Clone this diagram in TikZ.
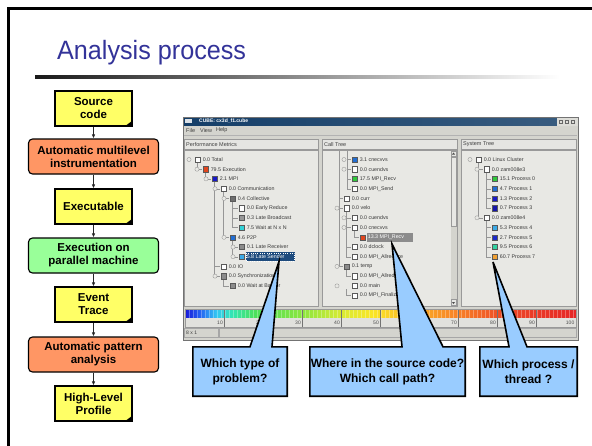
\documentclass[tikz,border=0pt]{standalone}
\usepackage{fontspec}
\setmainfont{Liberation Sans}
\usetikzlibrary{arrows.meta,calc}

\pgfdeclarelayer{front}
\pgfsetlayers{main,front}

\definecolor{titleblue}{RGB}{51,51,153}
\definecolor{docyellow}{RGB}{255,255,102}
\definecolor{procsalmon}{RGB}{255,150,100}
\definecolor{rungreen}{RGB}{153,255,153}
\definecolor{calloutblue}{RGB}{153,204,255}
\definecolor{winbg}{RGB}{212,212,206}
\definecolor{panelbg}{RGB}{232,232,228}
\definecolor{treetext}{RGB}{55,55,55}
\definecolor{treeline}{RGB}{150,150,150}
\definecolor{titlebar}{RGB}{20,62,104}
\definecolor{selblue}{RGB}{30,75,125}
\definecolor{selgrey}{RGB}{140,140,140}
\definecolor{sqred}{RGB}{224,70,30}
\definecolor{sqblue}{RGB}{25,25,200}
\definecolor{sqmid}{RGB}{35,110,210}
\definecolor{sqcyan}{RGB}{50,210,215}
\definecolor{sqsky}{RGB}{60,170,230}
\definecolor{sqgrey}{RGB}{110,110,110}
\definecolor{sqgreen}{RGB}{50,200,60}
\definecolor{sqteal}{RGB}{50,210,160}
\definecolor{sqorange}{RGB}{240,160,50}

% value scale of the metric browser
\pgfdeclarehorizontalshading{valuescale}{100bp}{
  rgb(0bp)=(0.10,0.10,0.85);
  rgb(25bp)=(0.10,0.10,0.85);
  rgb(27bp)=(0.15,0.40,0.95);
  rgb(29bp)=(0.20,0.78,0.95);
  rgb(31bp)=(0.20,0.90,0.70);
  rgb(34bp)=(0.30,0.88,0.35);
  rgb(40bp)=(0.55,0.90,0.25);
  rgb(45bp)=(0.85,0.92,0.20);
  rgb(49bp)=(0.98,0.90,0.15);
  rgb(54bp)=(0.98,0.70,0.15);
  rgb(60bp)=(0.97,0.50,0.15);
  rgb(66bp)=(0.93,0.28,0.15);
  rgb(75bp)=(0.90,0.15,0.15);
  rgb(100bp)=(0.90,0.15,0.15)}

\tikzset{
  flowtext/.style={font=\fontsize{11.5}{13}\selectfont\bfseries, align=center, inner sep=0pt, text=black},
  docbox/.style={flowtext, draw=black, line width=1.1pt, fill=docyellow, minimum width=77pt, minimum height=35pt},
  procbox/.style={flowtext, draw=black, line width=1.1pt, rounded corners=4pt, fill=procsalmon, minimum width=130pt, minimum height=35pt},
  runbox/.style={procbox, fill=rungreen},
  flowarrow/.style={-{Latex[length=4pt,width=3.4pt]}, line width=0.7pt, black!85},
  calloutlabel/.style={font=\fontsize{12}{15}\selectfont\bfseries, align=center, inner sep=0pt, minimum height=49pt},
  calloutshape/.style={fill=calloutblue, draw=black, line width=1.6pt, line join=miter},
  treelabel/.style={anchor=west, inner sep=0pt, font=\fontsize{5.3}{6}\selectfont, text=treetext},
  treeedge/.style={draw=treeline, line width=0.35pt},
  uilabel/.style={anchor=west, inner sep=0pt, font=\fontsize{5.5}{6}\selectfont, text=black!75},
  panel/.style={fill=panelbg, draw=black!40, line width=0.5pt},
  panelhead/.style={fill=winbg!60!white, draw=black!40, line width=0.5pt},
}

% square + label of one tree entry: [label opts]{name}{x}{y}{colour}{text}
\newcommand{\treeitem}[6][]{%
  \filldraw[fill=#5, draw=black!65, line width=0.3pt] (#3,#4-2.6) rectangle ++(5.2,5.2);
  \node[treelabel,#1] (#2) at (#3+7.6,#4) {#6};}
\newcommand{\expander}[2]{\filldraw[treeedge, fill=panelbg] (#1,#2) circle (2.1pt);}
\newcommand{\tedge}[4]{\draw[treeedge] (#1,#2) |- (#3,#4);}
\newcommand{\pagefold}[1]{\fill[black] ($(#1.south east)+(-8,0)$) -- ($(#1.south east)+(0,-6)$) -- (#1.south east) -- cycle;}

\begin{document}
\begin{tikzpicture}[x=1pt,y=-1pt]
\useasboundingbox (0,0) rectangle (592,445);
\fill[white] (0,0) rectangle (592,445);

% slide frame
\draw[black, line width=3pt] (8,446) -- (8,8) -- (593,8);

% heading
\node[anchor=base west, inner sep=0pt, text=titleblue, font=\fontsize{26.5}{30}\selectfont, xscale=0.95, transform shape] (title) at (57,59) {Analysis process};
\shade[left color=black!90, right color=white] (35,75.6) rectangle (560,78.6);

% ---------- process chain ----------
\node[docbox]  (src)   at (93.5,108.5) {Source\\code};
\node[procbox] (instr) at (93.5,156.5) {Automatic multilevel\\instrumentation};
\node[docbox]  (exe)   at (93.5,206.5) {Executable};
\node[runbox]  (run)   at (93.5,255.5) {Execution on\\parallel machine};
\node[docbox]  (trace) at (93.5,304.5) {Event\\Trace};
\node[procbox] (pat)   at (93.5,354.5) {Automatic pattern\\analysis};
\node[docbox]  (prof)  at (93.5,403.5) {High-Level\\Profile};
\pagefold{src}\pagefold{exe}\pagefold{trace}\pagefold{prof}
\draw[flowarrow] (src) -- (instr);
\draw[flowarrow] (instr) -- (exe);
\draw[flowarrow] (exe) -- (run);
\draw[flowarrow] (run) -- (trace);
\draw[flowarrow] (trace) -- (pat);
\draw[flowarrow] (pat) -- (prof);

% ---------- browser window ----------
\fill[winbg] (183,117) rectangle (578,340);
\shade[left color=titlebar, right color=titlebar!85!white] (183,117) rectangle (557,125.5);
\fill[winbg!80!white] (557,117) rectangle (578,125.5);
\foreach \bx in {561,567,573}{\draw[black!60, line width=0.4pt] (\bx-1.6,119.7) rectangle (\bx+1.6,122.9);}
\fill[white!85!titlebar] (185,119.3) rectangle (192,123.3);
\node[anchor=west, inner sep=0pt, text=white, font=\fontsize{5}{6}\selectfont\bfseries] (wtitle) at (199,121.3) {CUBE: cx3d\_f1.cube};
\draw[black!55, line width=0.6pt] (183,117) rectangle (578,340);

% menu
\node[uilabel] (mfile) at (186,130.5) {File};
\node[uilabel] (mview) at (200,130.5) {View};
\node[uilabel] (mhelp) at (216,130.5) {Help};
\draw[black!30, line width=0.4pt] (184,135.5) -- (577,135.5);

% panel headers
\draw[panelhead] (184.5,139.5) rectangle (318,149);
\draw[panelhead] (322,139.5) rectangle (457,149);
\draw[panelhead] (461,139.5) rectangle (576,149);
\node[uilabel] (hmet) at (186,144.3) {Performance Metrics};
\node[uilabel] (hcall) at (324,144.3) {Call Tree};
\node[uilabel] (hsys) at (463,144.3) {System Tree};

% panel bodies
\draw[panel] (184.5,150.5) rectangle (318,306);
\draw[panel] (322,150.5) rectangle (457,306);
\draw[panel] (461,150.5) rectangle (576,306);

% scroll bar of the call tree
\fill[winbg] (450.5,151) rectangle (456.5,305.5);
\draw[fill=winbg!55!white, draw=black!40, line width=0.4pt] (450.8,157) rectangle (456.2,226);
\draw[fill=winbg!55!white, draw=black!40, line width=0.4pt] (450.8,151) rectangle (456.2,156.5);
\draw[fill=winbg!55!white, draw=black!40, line width=0.4pt] (450.8,299.5) rectangle (456.2,305.5);
\fill[black!70] (452,302) -- (455,302) -- (453.5,304) -- cycle;
\fill[black!70] (452,154.5) -- (455,154.5) -- (453.5,152.5) -- cycle;

% metric tree
\tedge{197.6}{162.5}{202}{169.2}
\tedge{205.6}{172}{211}{178.9}
\tedge{214.6}{181.5}{220}{276.1}
\draw[treeedge] (214.6,188.7) -- (220,188.7) (214.6,266.4) -- (220,266.4);
\tedge{223.6}{191.3}{229}{237.3}
\draw[treeedge] (223.6,198.4) -- (229,198.4);
\tedge{232.6}{201}{238}{227.5}
\draw[treeedge] (232.6,208.1) -- (238,208.1) (232.6,217.8) -- (238,217.8);
\tedge{232.6}{240}{238}{256.7}
\draw[treeedge] (232.6,247) -- (238,247);
\tedge{223.6}{279}{229}{285.9}
\expander{189}{159.5}\expander{197}{169.2}\expander{206}{178.9}\expander{215}{188.7}
\expander{224}{198.4}\expander{224}{237.3}\expander{233}{247}\expander{233}{256.7}\expander{215}{276.1}
\fill[selblue] (245.8,252.2) rectangle (295,261.3);
\draw[white, dotted, line width=0.3pt] (246.3,252.7) rectangle (294.5,260.8);
\treeitem{m1}{195}{159.5}{white}{0.0 Total}
\treeitem{m2}{203}{169.2}{sqred}{79.5 Execution}
\treeitem{m3}{212}{178.9}{sqblue}{2.1 MPI}
\treeitem{m4}{221}{188.7}{white}{0.0 Communication}
\treeitem{m5}{230}{198.4}{sqgrey}{0.4 Collective}
\treeitem{m6}{239}{208.1}{white}{0.0 Early Reduce}
\treeitem{m7}{239}{217.8}{sqgrey!70}{0.3 Late Broadcast}
\treeitem{m8}{239}{227.5}{sqcyan}{7.5 Wait at N x N}
\treeitem{m9}{230}{237.3}{sqmid}{4.6 P2P}
\treeitem{m10}{239}{247.0}{sqgrey!80}{0.1 Late Receiver}
\treeitem[text=white]{m11}{239}{256.7}{sqsky}{5.8 Late Sender}
\treeitem{m12}{221}{266.4}{white}{0.0 IO}
\treeitem{m13}{221}{276.1}{sqgrey!80}{0.0 Synchronization}
\treeitem{m14}{230}{285.9}{sqgrey!80}{0.0 Wait at Barrier}

% call tree
\draw[treeedge] (339,151) -- (339,266.4);
\draw[treeedge] (339,198.4) -- (343,198.4) (339,208.1) -- (343,208.1) (339,266.4) -- (343,266.4);
\tedge{347}{151}{351}{188.7}
\draw[treeedge] (347,159.5) -- (351,159.5) (347,169.2) -- (351,169.2) (347,178.9) -- (351,178.9);
\tedge{346.6}{211}{351}{256.7}
\draw[treeedge] (346.6,217.8) -- (351,217.8) (346.6,227.5) -- (351,227.5) (346.6,247) -- (351,247);
\tedge{354.6}{230.5}{359}{237.3}
\tedge{346.6}{269.4}{351}{276.1}
\tedge{346.6}{289}{351}{295.6}
\expander{344}{159.5}\expander{344}{169.2}\expander{337}{208.1}\expander{344}{217.8}
\expander{344}{227.5}\expander{337}{266.4}\expander{337}{285.9}
\fill[selgrey] (366.5,232.9) rectangle (413,241.8);
\treeitem{c1}{352}{159.5}{sqmid}{3.1 cnecvvs}
\treeitem{c2}{352}{169.2}{white}{0.0 cuendvs}
\treeitem{c3}{352}{178.9}{sqgreen}{17.5 MPI\_Recv}
\treeitem{c4}{352}{188.7}{white}{0.0 MPI\_Send}
\treeitem{c5}{344}{198.4}{white}{0.0 curr}
\treeitem{c6}{344}{208.1}{white}{0.0 velo}
\treeitem{c7}{352}{217.8}{white}{0.0 cuendvs}
\treeitem{c8}{352}{227.5}{white}{0.0 cnecvvs}
\treeitem[text=white]{c9}{360}{237.3}{sqred}{13.3 MPI\_Recv}
\treeitem{c10}{352}{247.0}{white}{0.0 dclock}
\treeitem{c11}{352}{256.7}{white}{0.0 MPI\_Allreduce}
\treeitem{c12}{344}{266.4}{sqgrey!80}{0.1 temp}
\treeitem{c13}{352}{276.1}{white}{0.0 MPI\_Allreduce}
\treeitem{c14}{352}{285.9}{white}{0.0 main}
\treeitem{c15}{352}{295.6}{white}{0.0 MPI\_Finalize}

% system tree
\tedge{478.6}{162.5}{483}{217.8}
\draw[treeedge] (478.6,169.2) -- (483,169.2);
\tedge{486.6}{172}{491}{208.1}
\draw[treeedge] (486.6,178.9) -- (491,178.9) (486.6,188.7) -- (491,188.7) (486.6,198.4) -- (491,198.4);
\tedge{486.6}{221}{491}{256.7}
\draw[treeedge] (486.6,227.5) -- (491,227.5) (486.6,237.3) -- (491,237.3) (486.6,247) -- (491,247);
\expander{470}{159.5}\expander{477}{169.2}\expander{477}{217.8}
\treeitem{s1}{476}{159.5}{white}{0.0 Linux Cluster}
\treeitem{s2}{484}{169.2}{white}{0.0 zam008e3}
\treeitem{s3}{492}{178.9}{sqgreen}{15.1 Process 0}
\treeitem{s4}{492}{188.7}{sqmid}{4.7 Process 1}
\treeitem{s5}{492}{198.4}{sqblue}{1.3 Process 2}
\treeitem{s6}{492}{208.1}{sqblue!85!black}{0.7 Process 3}
\treeitem{s7}{484}{217.8}{white}{0.0 zam008e4}
\treeitem{s8}{492}{227.5}{sqsky}{5.3 Process 4}
\treeitem{s9}{492}{237.3}{sqblue!80!sqmid}{2.7 Process 5}
\treeitem{s10}{492}{247.0}{sqteal}{9.5 Process 6}
\treeitem{s11}{492}{256.7}{sqorange}{60.7 Process 7}

% colour scale
\shade[shading=valuescale] (185,309.5) rectangle (576,318);
\foreach \i in {0,...,97}{\draw[white, opacity=0.3, line width=0.35pt] ({185+4*\i},309.5) -- ++(0,8.5);}
\fill[winbg!70!white] (185,318) rectangle (576,327);
\foreach \v in {10,20,...,90}{
  \draw[black!55, line width=0.5pt] ({185+3.9*\v},309.5) -- ({185+3.9*\v},327);
  \node[anchor=east, inner sep=0pt, font=\fontsize{5}{6}\selectfont, text=black!70] (num\v) at ({184+3.9*\v},322.8) {\v};
}
\node[anchor=east, inner sep=0pt, font=\fontsize{5}{6}\selectfont, text=black!70] (num100) at (574.5,322.8) {100};
\draw[black!40, line width=0.4pt] (185,309.5) rectangle (576,327);

% status bar
\draw[fill=winbg, draw=black!35, line width=0.4pt] (184.5,328.5) rectangle (218,337);
\draw[fill=winbg, draw=black!35, line width=0.4pt] (219,328.5) rectangle (576,337);
\node[uilabel, font=\fontsize{5}{6}\selectfont] (status) at (186,332.8) {8 x 1};

% ---------- callouts ----------
\begin{pgfonlayer}{front}
  \node[calloutlabel, minimum width=94pt]  (qa) at (240,371.5)   {Which type of\\problem?};
  \node[calloutlabel, minimum width=155pt] (qb) at (387.5,371.5) {Where in the source code?\\Which call path?};
  \node[calloutlabel, minimum width=97pt]  (qc) at (528.5,371.5) {Which process /\\thread ?};
\end{pgfonlayer}
\coordinate (tipa) at (279,261.5);
\coordinate (tipb) at (392,244);
\coordinate (tipc) at (493,262);
\filldraw[calloutshape] (qa.north west) -- (250,0 |- qa.north) -- (tipa) -- (272,0 |- qa.north) -- (qa.north east) -- (qa.south east) -- (qa.south west) -- cycle;
\filldraw[calloutshape] (qb.north west) -- (402,0 |- qb.north) -- (tipb) -- (443,0 |- qb.north) -- (qb.north east) -- (qb.south east) -- (qb.south west) -- cycle;
\filldraw[calloutshape] (qc.north west) -- (509,0 |- qc.north) -- (tipc) -- (527,0 |- qc.north) -- (qc.north east) -- (qc.south east) -- (qc.south west) -- cycle;
\end{tikzpicture}
\end{document}
